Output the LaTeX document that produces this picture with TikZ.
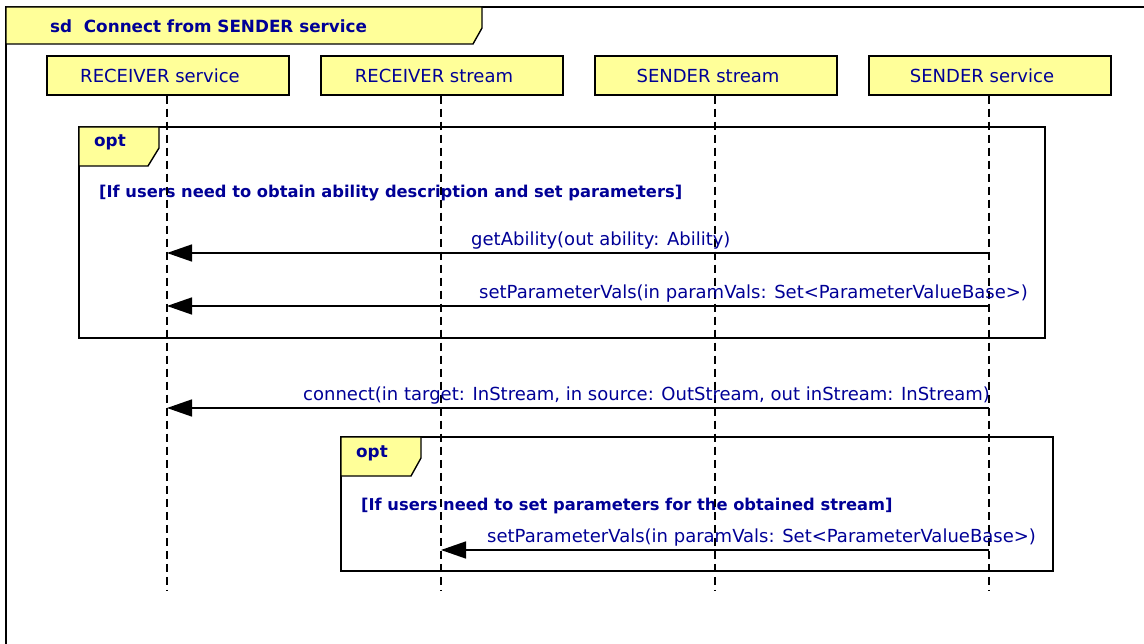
\documentclass[tikz,border=0pt]{standalone}
\usepackage{fontspec}
\setmainfont{DejaVu Sans}
\usetikzlibrary{arrows.meta}
\definecolor{umlyellow}{RGB}{255,255,153}
\definecolor{umlblue}{RGB}{0,0,150}
\begin{document}
\begin{tikzpicture}[x=1pt,y=-1pt,
  frameline/.style={line width=1.4pt, draw=black},
  lifebox/.style={draw=black, line width=1.5pt, fill=umlyellow, minimum width=242pt, minimum height=39pt, inner sep=0pt, text=umlblue, font=\fontsize{18}{20}\selectfont, execute at begin node={\hspace*{-16pt}}},
  lifeline/.style={line width=1.2pt, dash pattern=on 8pt off 5pt},
  msg/.style={line width=1.5pt, -{Triangle[length=25pt,width=17pt]}},
  msglabel/.style={anchor=base west, inner sep=0pt, text=umlblue, font=\fontsize{18}{20}\selectfont},
  boldlabel/.style={anchor=base west, inner sep=0pt, text=umlblue, font=\fontsize{16.3}{20}\selectfont\bfseries},
  titlelabel/.style={anchor=base west, inner sep=0pt, text=umlblue, font=\fontsize{16.8}{20}\selectfont\bfseries},
]
\useasboundingbox (0,0) rectangle (1144,644);
\begin{scope}
  \clip (0,0) rectangle (1144,644);
  \draw[frameline] (6,660) -- (6,7) -- (1160,7);
\end{scope}
% title tab
\draw[frameline, fill=umlyellow] (6,7) -- (482,7) -- (482,28) -- (473,44) -- (6,44) -- cycle;
\node[titlelabel] (title) at (50,33) {sd\ \ Connect from SENDER service};

% lifeline heads
\node[lifebox] (rsv) at (168,75.5) {RECEIVER service};
\node[lifebox] (rst) at (442,75.5) {RECEIVER stream};
\node[lifebox] (sst) at (716,75.5) {SENDER stream};
\node[lifebox] (ssv) at (990,75.5) {SENDER service};

% opt fragment 1
\draw[frameline] (79,127) rectangle (1045,338);
\draw[frameline, fill=umlyellow] (79,127) -- (159,127) -- (159,148) -- (148,166) -- (79,166) -- cycle;
\node[titlelabel] (opt1) at (94,147) {opt};
\node[boldlabel] (guard1) at (99,198) {[If users need to obtain ability description and set parameters]};

% opt fragment 2
\draw[frameline] (341,437) rectangle (1053,571);
\draw[frameline, fill=umlyellow] (341,437) -- (421,437) -- (421,458) -- (411,476) -- (341,476) -- cycle;
\node[titlelabel] (opt2) at (356,457) {opt};
\node[boldlabel] (guard2) at (361,510) {[If users need to set parameters for the obtained stream]};

% lifelines
\foreach \n in {rsv,rst,sst,ssv}{
  \coordinate (\n-end) at ([xshift=-1pt]\n.south |- 0,590);
  \draw[lifeline] ([xshift=-1pt]\n.south) -- (\n-end);
}

% messages
\coordinate (m1s) at (ssv-end |- 0,253);
\coordinate (m1t) at (rsv-end |- 0,253);
\draw[msg] (m1s) -- (m1t);
\node[msglabel] (l1) at (471,246) {getAbility(out ability: Ability)};

\coordinate (m2s) at (ssv-end |- 0,306);
\coordinate (m2t) at (rsv-end |- 0,306);
\draw[msg] (m2s) -- (m2t);
\node[msglabel] (l2) at (479,299) {setParameterVals(in paramVals: Set<ParameterValueBase>)};

\coordinate (m3s) at (ssv-end |- 0,408);
\coordinate (m3t) at (rsv-end |- 0,408);
\draw[msg] (m3s) -- (m3t);
\node[msglabel] (l3) at (303,401) {connect(in target: InStream, in source: OutStream, out inStream: InStream)};

\coordinate (m4s) at (ssv-end |- 0,550);
\coordinate (m4t) at (rst-end |- 0,550);
\draw[msg] (m4s) -- (m4t);
\node[msglabel] (l4) at (487,542) {setParameterVals(in paramVals: Set<ParameterValueBase>)};
\end{tikzpicture}
\end{document}
